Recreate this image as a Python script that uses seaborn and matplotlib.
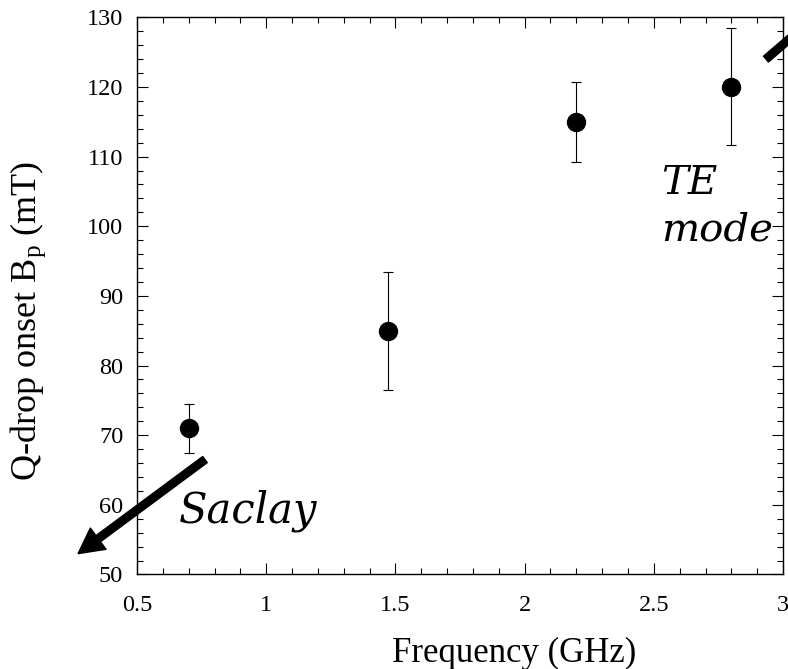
import numpy as np
import pandas as pd
import matplotlib
matplotlib.use("Agg")
import matplotlib.pyplot as plt
from matplotlib.ticker import MultipleLocator
import seaborn as sns

# ---- data ----
frequency_ghz = [0.7, 1.47, 2.2, 2.8]
qdrop_onset_mt = [71.0, 85.0, 115.0, 120.0]
error_mt = [3.5, 8.5, 5.75, 8.4]

x_ticks = [0.5, 1, 1.5, 2, 2.5, 3]
x_tick_labels = ["0.5", "1", "1.5", "2", "2.5", "3"]
y_ticks = [50, 60, 70, 80, 90, 100, 110, 120, 130]

# annotation anchors (data coordinates)
saclay_arrow_tail = (0.763, 66.5)
saclay_arrow_tip = (0.272, 53.0)
te_arrow_tail = (2.934, 124.0)
te_arrow_tip = (3.2, 132.5)
saclay_text_pos = (0.66, 57.5)
te_text_pos = (2.527, 98.0)

df = pd.DataFrame({"f": frequency_ghz, "b": qdrop_onset_mt, "e": error_mt})

sns.set_style("ticks")
plt.rcParams["font.family"] = ["Liberation Serif", "DejaVu Serif"]
plt.rcParams["mathtext.fontset"] = "custom"
plt.rcParams["mathtext.rm"] = "Liberation Serif"
plt.rcParams["mathtext.it"] = "Liberation Serif:italic"
for k in ["text.color", "axes.labelcolor", "xtick.color", "ytick.color",
          "axes.edgecolor", "xtick.labelcolor", "ytick.labelcolor"]:
    plt.rcParams[k] = "black"

fig = plt.figure(figsize=(7.88, 6.69), dpi=100)
ax = fig.add_axes([0.1739, 0.1413, 0.8198, 0.8328])

ax.errorbar(df["f"], df["b"], yerr=df["e"], fmt="none", ecolor="black",
            elinewidth=0.8, capsize=3.3, capthick=0.8, zorder=2)
sns.scatterplot(data=df, x="f", y="b", ax=ax, color="black", s=195,
                edgecolor="black", linewidth=0, zorder=3, legend=False)

ax.set_xlim(0.5, 3.0)
ax.set_ylim(50, 130)
ax.set_xticks(x_ticks)
ax.set_xticklabels(x_tick_labels)
ax.set_yticks(y_ticks)
ax.xaxis.set_minor_locator(MultipleLocator(0.1))
ax.yaxis.set_minor_locator(MultipleLocator(2))

ax.tick_params(which="both", direction="in", top=True, right=True,
               width=0.8, color="black", labelsize=17.5, labelcolor="black")
ax.tick_params(which="major", length=8)
ax.tick_params(which="minor", length=4.5)
ax.tick_params(axis="x", which="major", pad=14.5)
ax.tick_params(axis="y", which="major", pad=10)
for sp in ax.spines.values():
    sp.set_linewidth(1.0)
    sp.set_color("black")
    sp.set_visible(True)

ax.set_xlabel("Frequency (GHz)", fontsize=25, color="black")
ax.set_ylabel(r"Q-drop onset B$_\mathregular{p}$ (mT)", fontsize=26,
              color="black")
ax.xaxis.set_label_coords(0.583, -0.113)
ax.yaxis.set_label_coords(-0.138, 0.455)

# arrows
ax.annotate("", xy=saclay_arrow_tip, xytext=saclay_arrow_tail,
            arrowprops=dict(width=5.5, headwidth=19, headlength=18,
                            facecolor="black", edgecolor="black", shrink=0),
            annotation_clip=False)
ax.annotate("", xy=te_arrow_tip, xytext=te_arrow_tail,
            arrowprops=dict(width=5.5, headwidth=19, headlength=18,
                            facecolor="black", edgecolor="black", shrink=0),
            annotation_clip=False)

ax.text(*saclay_text_pos, "Saclay", fontsize=30, style="italic",
        family=["DejaVu Serif"], ha="left", va="baseline", color="black")
ax.text(*te_text_pos, "TE\nmode", fontsize=29, style="italic",
        family=["DejaVu Serif"], ha="left", va="baseline", color="black",
        linespacing=1.3, clip_on=False)

fig.savefig("out.png", dpi=100)
